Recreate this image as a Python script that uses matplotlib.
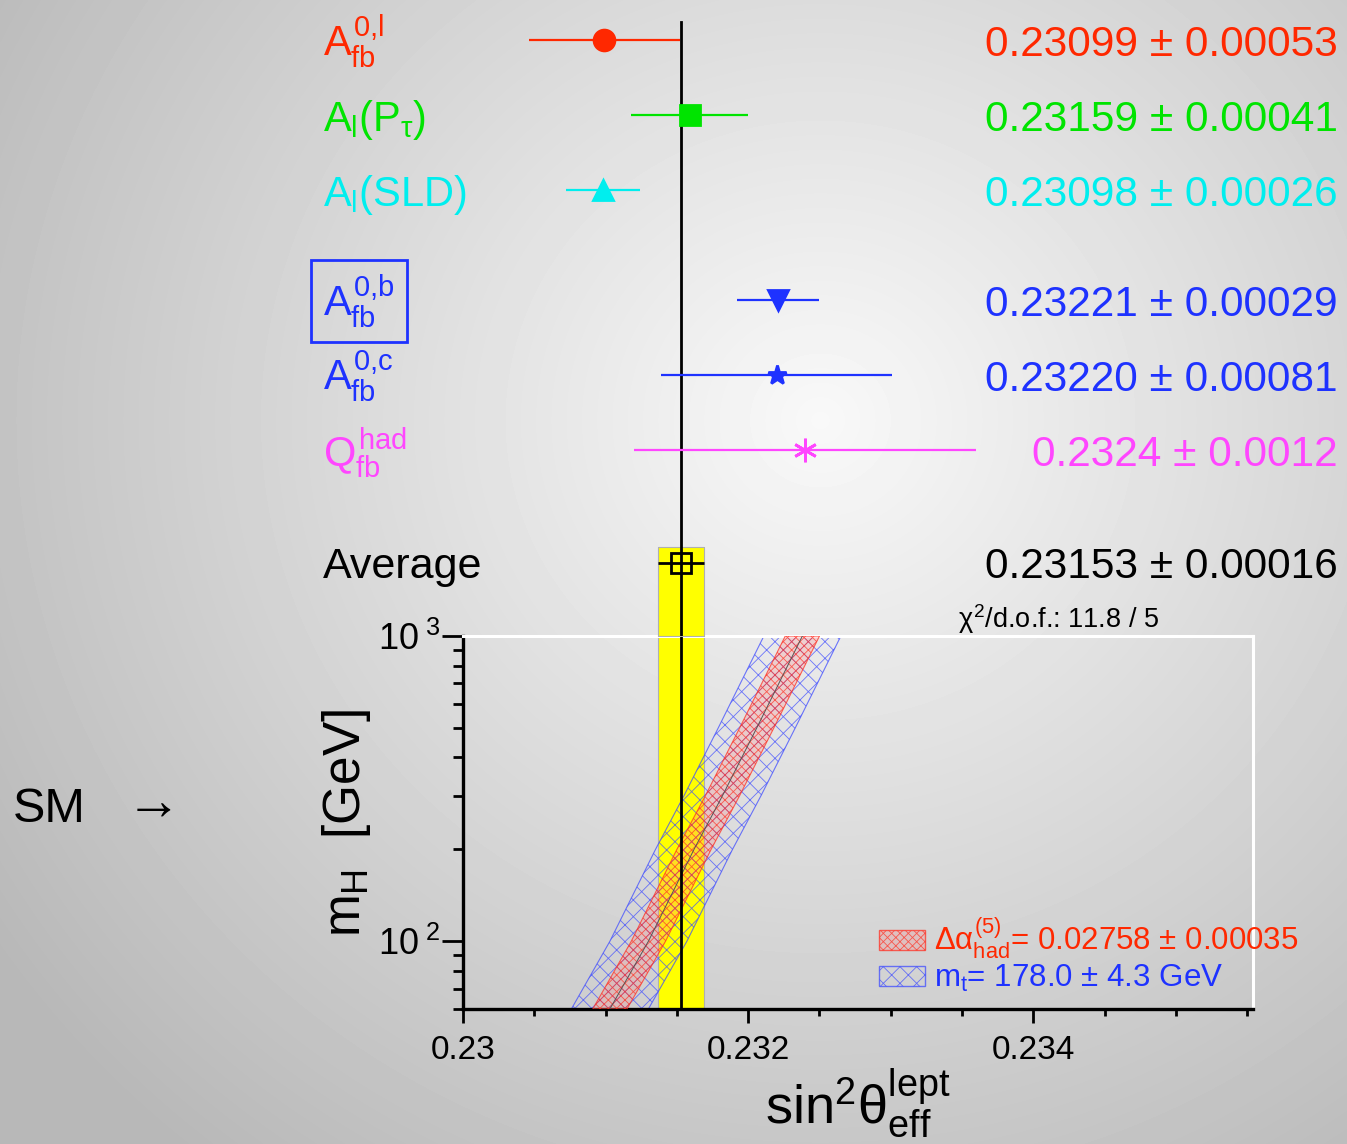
import numpy as np
import matplotlib
matplotlib.use('Agg')
import matplotlib.pyplot as plt
from matplotlib import font_manager
from matplotlib.patches import Patch
from matplotlib.ticker import FixedLocator, FuncFormatter, NullFormatter, LogLocator

# fonts
names = font_manager.get_font_names()
narrow = 'Liberation Sans Narrow' if 'Liberation Sans Narrow' in names else 'Liberation Sans'
plt.rcParams['font.family'] = ['Liberation Sans', 'DejaVu Sans']
plt.rcParams['mathtext.fontset'] = 'custom'
plt.rcParams['mathtext.rm'] = 'Liberation Sans'
plt.rcParams['mathtext.it'] = 'Liberation Sans'
plt.rcParams['mathtext.bf'] = 'Liberation Sans:bold'
plt.rcParams['mathtext.sf'] = narrow
plt.rcParams['hatch.linewidth'] = 0.6

# measurements of sin^2 theta_eff^lept
labels = [r'$A_{fb}^{0{,}l}$', r'$A_l(P_\tau)$', r'$A_l$(SLD)',
          r'$A_{fb}^{0{,}b}$', r'$A_{fb}^{0{,}c}$', r'$Q_{fb}^{had}$']
values = [0.23099, 0.23159, 0.23098, 0.23221, 0.23220, 0.2324]
errors = [0.00053, 0.00041, 0.00026, 0.00029, 0.00081, 0.0012]
value_text = ['0.23099 ± 0.00053', '0.23159 ± 0.00041', '0.23098 ± 0.00026',
              '0.23221 ± 0.00029', '0.23220 ± 0.00081', '0.2324 ± 0.0012']
avg_value = 0.23153
avg_error = 0.00016
avg_text = '0.23153 ± 0.00016'
chi2_text = r'$\chi^2$/d.o.f.: 11.8 / 5'

# SM prediction vs Higgs mass
mh = [60, 100, 200, 300, 500, 1000]
sm_center = [0.23103, 0.23130, 0.23162, 0.23182, 0.23206, 0.23238]
alpha_half = 0.00012   # delta alpha_had band half width
mt_half = 0.00027      # m_t band half width
alpha_label = r'$\Delta\alpha^{(5)}_{had}$= 0.02758 ± 0.00035'
mt_label = r'$m_t$= 178.0 ± 4.3 GeV'

colors = ['#ff2800', '#00e400', '#00eeee', '#1e32ff', '#1e32ff', '#ff46ff']
markers = ['o', 's', '^', 'v', '*', (6, 2, 0)]
msizes = [15, 14, 15, 14, 14, 17]
rows = [0, 1, 2, 3.47, 4.47, 5.47]
avg_row = 6.97

W, H = 1347, 1144
fig = plt.figure(figsize=(W / 100, H / 100), dpi=100)

# background gradient
bg = fig.add_axes([0, 0, 1, 1], zorder=-10)
X, Y = np.meshgrid(np.arange(W), np.arange(H))
r = np.sqrt((X - 820.0) ** 2 + ((Y - 420.0) * 1.05) ** 2)
shade = np.clip(0.975 - 0.23 * r / 900.0, 0.72, 1)
bg.imshow(shade, cmap='gray', vmin=0, vmax=1, extent=(0, W, H, 0), aspect='auto')
bg.axis('off')

xlo, xhi = 0.23, 0.23554
ax = fig.add_axes([463 / W, (H - 1009) / H, 790 / W, 373 / H], facecolor='none')
axt = fig.add_axes([463 / W, (H - 636) / H, 790 / W, 636 / H], facecolor='none')

# ---- top panel
axt.set_xlim(xlo, xhi)
axt.set_ylim(596 / 75, -40 / 75)
axt.axis('off')
ytr = axt.get_yaxis_transform()
for i in range(len(values)):
    axt.errorbar(values[i], rows[i], xerr=errors[i], fmt='none', ecolor=colors[i],
                 elinewidth=1.6, capsize=0, zorder=5)
    axt.plot(values[i], rows[i], marker=markers[i], color=colors[i], ms=msizes[i],
             mew=2, ls='none', zorder=6)
    kw = {}
    if i == 3:
        kw['bbox'] = dict(boxstyle='square,pad=0.3', fc='none', ec=colors[i], lw=2)
    axt.text(-0.177, rows[i] + 0.21, labels[i], color=colors[i], fontsize=30,
             ha='left', va='baseline', transform=ytr, **kw)
    axt.text(1.1076, rows[i] + 0.21, value_text[i], color=colors[i], fontsize=30.5,
             ha='right', va='baseline', transform=ytr)

axt.text(-0.177, avg_row + 0.21, 'Average', color='black', fontsize=31,
         ha='left', va='baseline', transform=ytr)
axt.text(1.1076, avg_row + 0.21, avg_text, color='black', fontsize=30.5,
         ha='right', va='baseline', transform=ytr)
axt.fill_betweenx([(547 - 40) / 75, 596 / 75], avg_value - avg_error, avg_value + avg_error,
                  color='#ffff00', ec='#b0b0b0', lw=0.8, zorder=1)
axt.plot([avg_value, avg_value], [-0.24, 596 / 75], color='black', lw=2, zorder=4)
axt.errorbar(avg_value, avg_row, xerr=avg_error, fmt='s', mfc='none', mec='black',
             color='black', ms=15, mew=2, elinewidth=2, capsize=0, zorder=6)

# ---- bottom panel
ax.set_xlim(xlo, xhi)
ax.set_yscale('log')
ax.set_ylim(60, 1000)
ax.axvspan(avg_value - avg_error, avg_value + avg_error, color='#ffff00', ec='#b0b0b0',
           lw=0.8, zorder=1)
c = np.array(sm_center)
ax.fill_betweenx(mh, c - mt_half, c + mt_half, facecolor='none',
                 edgecolor=(0.25, 0.3, 1, 0.75), hatch='xx', lw=0.8, zorder=2)
ax.fill_betweenx(mh, c - alpha_half, c + alpha_half, facecolor=(1, 0.5, 0.5, 0.25),
                 edgecolor=(1, 0.2, 0.15, 0.75), hatch='xxxx', lw=0.8, zorder=3)
ax.plot(c, mh, color='#555555', lw=0.7, zorder=3)
ax.axvline(avg_value, color='black', lw=2, zorder=4)

for s in ['left', 'bottom']:
    ax.spines[s].set_linewidth(2.4)
for s in ['top', 'right']:
    ax.spines[s].set_color('white')
    ax.spines[s].set_linewidth(2.2)

ax.xaxis.set_major_locator(FixedLocator([0.230, 0.232, 0.234]))
ax.xaxis.set_minor_locator(FixedLocator(np.arange(0.2300, 0.2356, 0.0005)))
ax.set_xticklabels(['0.23', '0.232', '0.234'], fontfamily=narrow, fontsize=24)
ax.tick_params(axis='x', which='major', direction='out', length=10, width=2, pad=9)
ax.tick_params(axis='x', which='minor', direction='out', length=5, width=2)

ax.yaxis.set_major_locator(LogLocator(base=10))
ax.yaxis.set_minor_locator(LogLocator(base=10, subs=np.arange(2, 10)))
ax.yaxis.set_major_formatter(FuncFormatter(
    lambda v, p: r'$\mathsf{10^{\ %d}}$' % round(np.log10(v))))
ax.yaxis.set_minor_formatter(NullFormatter())
ax.tick_params(axis='y', which='major', direction='out', length=15, width=2, pad=1,
               labelsize=26)
ax.tick_params(axis='y', which='minor', direction='out', length=7, width=2)

ax.set_xlabel(r'$\mathsf{sin^2\theta^{lept}_{eff}}$', fontsize=39, labelpad=0)
ax.set_ylabel(r'$m_H$  [GeV]', fontsize=37, labelpad=4)

ax.text(0.6266, 1.021, chi2_text, fontsize=19.5, transform=ax.transAxes, va='baseline')

hands = [Patch(facecolor=(1, 0.5, 0.5, 0.25), edgecolor=(1, 0.2, 0.15, 0.75), hatch='xxxx'),
         Patch(facecolor='none', edgecolor=(0.25, 0.3, 1, 0.75), hatch='xx')]
leg = ax.legend(hands, [alpha_label, mt_label], loc='lower left',
                bbox_to_anchor=(0.527, 0.04), frameon=False, fontsize=22.5,
                handlelength=1.45, handleheight=0.6, handletextpad=0.3,
                labelspacing=0.05, borderpad=0, borderaxespad=0)
leg.get_texts()[0].set_color('#ff2800')
leg.get_texts()[1].set_color('#1e32ff')

fig.text(13 / W, 1 - 822 / H, 'SM', fontsize=35, va='baseline')
fig.text(126 / W, 1 - 820 / H, '→', fontsize=40, va='baseline')

fig.savefig('out.png', dpi=100)
